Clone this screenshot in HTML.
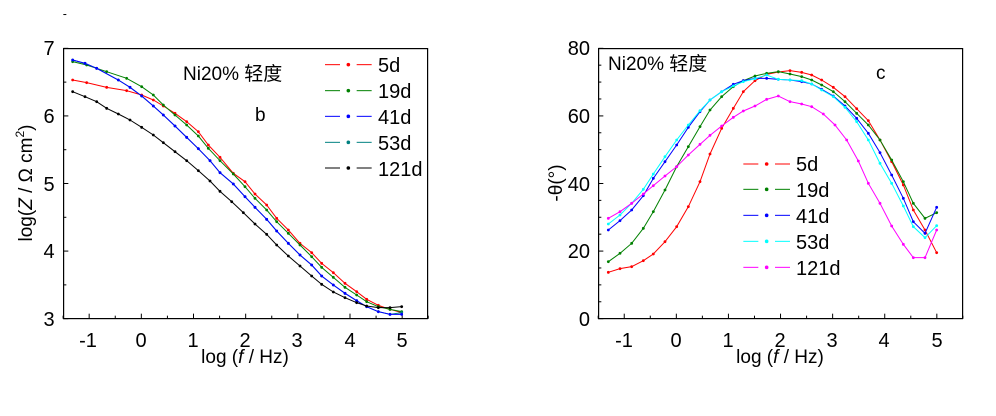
<!DOCTYPE html>
<html><head><meta charset="utf-8"><style>
html,body{margin:0;padding:0;background:#fff;overflow:hidden;}
svg{display:block;font-family:"Liberation Sans","Noto Sans CJK SC",sans-serif;}
.b{position:absolute;background:#000;}
</style></head><body>
<div class="b" style="left:63px;top:48px;width:365px;height:1px"></div>
<div class="b" style="left:427px;top:48px;width:1px;height:271px"></div>
<div class="b" style="left:598px;top:48px;width:365px;height:1px"></div>
<div class="b" style="left:962px;top:48px;width:1px;height:271px"></div>
<svg id="s" width="996" height="416" viewBox="0 0 996 416" xmlns="http://www.w3.org/2000/svg" style="position:absolute;left:0;top:0">
<g fill="#000">
<rect x="63" y="48" width="365" height="1.2"/>
<rect x="427" y="48" width="1.2" height="271"/>
<rect x="63" y="48" width="1.2" height="271"/>
<rect x="63" y="318" width="365" height="1.2"/>
<rect x="598" y="48" width="365" height="1.2"/>
<rect x="962" y="48" width="1.2" height="271"/>
<rect x="598" y="48" width="1.2" height="271"/>
<rect x="598" y="318" width="365" height="1.2"/>
</g>
<g id="L"></g>
<g id="R"></g>
<g font-size="20" fill="#000">
<text x="49" y="55" text-anchor="middle">7</text>
<text x="49" y="123" text-anchor="middle">6</text>
<text x="49" y="191" text-anchor="middle">5</text>
<text x="49" y="258" text-anchor="middle">4</text>
<text x="49" y="326" text-anchor="middle">3</text>
<text x="88" y="347" text-anchor="middle">-1</text>
<text x="141" y="347" text-anchor="middle">0</text>
<text x="193" y="347" text-anchor="middle">1</text>
<text x="245" y="347" text-anchor="middle">2</text>
<text x="297" y="347" text-anchor="middle">3</text>
<text x="350" y="347" text-anchor="middle">4</text>
<text x="402" y="347" text-anchor="middle">5</text>
<text x="378" y="72">5d</text>
<text x="378" y="98">19d</text>
<text x="378" y="124">41d</text>
<text x="378" y="150">53d</text>
<text x="378" y="176">121d</text>
<text x="183" y="80" font-size="19">Ni20%  轻度</text>
<text x="255" y="121" font-size="19">b</text>
<text x="245" y="363" text-anchor="middle" font-size="19">log (<tspan font-style="italic">f</tspan> / Hz)</text>
<text transform="translate(32,183) rotate(-90)" text-anchor="middle" font-size="19">log(<tspan font-style="italic">Z</tspan> / Ω cm<tspan dy="-8" font-size="12">2</tspan><tspan dy="8">)</tspan></text>
</g>
<g font-size="20" fill="#000">
<text x="590" y="55" text-anchor="end">80</text>
<text x="590" y="123" text-anchor="end">60</text>
<text x="590" y="191" text-anchor="end">40</text>
<text x="590" y="258" text-anchor="end">20</text>
<text x="590" y="326" text-anchor="end">0</text>
<text x="624" y="347" text-anchor="middle">-1</text>
<text x="676" y="347" text-anchor="middle">0</text>
<text x="728" y="347" text-anchor="middle">1</text>
<text x="780" y="347" text-anchor="middle">2</text>
<text x="832" y="347" text-anchor="middle">3</text>
<text x="884" y="347" text-anchor="middle">4</text>
<text x="937" y="347" text-anchor="middle">5</text>
<text x="796" y="171">5d</text>
<text x="796" y="197">19d</text>
<text x="796" y="223">41d</text>
<text x="796" y="249">53d</text>
<text x="796" y="275">121d</text>
<text x="608" y="70" font-size="19">Ni20%  轻度</text>
<text x="876" y="79" font-size="19">c</text>
<text x="780" y="363" text-anchor="middle" font-size="19">log (<tspan font-style="italic">f</tspan> / Hz)</text>
<text transform="translate(562,183) rotate(-90)" text-anchor="middle" font-size="19">-θ(°)</text>
</g>
</svg>
<script>
var NS="http://www.w3.org/2000/svg";
function el(p,t,a){var e=document.createElementNS(NS,t);for(var k in a)e.setAttribute(k,a[k]);p.appendChild(e);return e;}
function mk(ox,oy){return function(x,y){return [ox+x/3,oy+y/3];};}
function ticks(g,T,x0,y1,xt,xm,yt,ym){
 var a=T(x0,0)[0],b=T(0,y1)[1];
 xt.forEach(function(x){var p=T(x,0)[0];el(g,"line",{x1:p,x2:p,y1:b,y2:b-5,stroke:"#000","stroke-width":1});});
 xm.forEach(function(x){var p=T(x,0)[0];el(g,"line",{x1:p,x2:p,y1:b,y2:b-3,stroke:"#000","stroke-width":1});});
 yt.forEach(function(y){var p=T(0,y)[1];el(g,"line",{x1:a,x2:a+5,y1:p,y2:p,stroke:"#000","stroke-width":1});});
 ym.forEach(function(y){var p=T(0,y)[1];el(g,"line",{x1:a,x2:a+3,y1:p,y2:p,stroke:"#000","stroke-width":1});});
}
function series(g,T,pts,c){
 var q=pts.map(function(p){return T(p[0],p[1]);});
 el(g,"polyline",{points:q.map(function(p){return p.join(",")}).join(" "),fill:"none",stroke:c,"stroke-width":1});
 q.forEach(function(p){el(g,"circle",{cx:p[0],cy:p[1],r:1.4,fill:c});});
}
function legend(g,T,x0,y,c){
 var a=T(x0,y),b=T(x0+45,y),d=T(x0+95,y),e=T(x0+140,y),m=T(x0+70,y);
 el(g,"line",{x1:a[0],x2:b[0],y1:a[1],y2:a[1],stroke:c,"stroke-width":1});
 el(g,"line",{x1:d[0],x2:e[0],y1:a[1],y2:a[1],stroke:c,"stroke-width":1});
 el(g,"circle",{cx:m[0],cy:m[1],r:1.8,fill:c});
}
var L=document.getElementById("L"),R=document.getElementById("R");
var TL=mk(0,30),TR=mk(520,30);
var xt=[],xm=[];for(var i=-1;i<=5;i++){xt.push(424+i*156.5);xm.push(424+(i-0.5)*156.5);}xm.push(424+5.5*156.5);
var yt=[],ym=[];for(var i=0;i<5;i++){yt.push(866-i*202.75);ym.push(866-(i+0.5)*202.75);}
ticks(L,TL,190,866,xt,xm,yt,ym);
var L5=[[218,150],[260,158],[320,172],[380,182],[425,195],[460,210],[490,228],[525,250],[560,275],[595,305],[625,345],[660,382],[700,430],[735,455],[765,492],[800,525],[830,565],[865,600],[900,640],[935,668],[965,700],[1000,728],[1035,760],[1070,785],[1100,808],[1135,826],[1170,838],[1205,848]];
var L19=[[218,95],[260,105],[320,125],[380,145],[425,170],[460,195],[490,225],[525,255],[560,285],[595,318],[625,355],[660,392],[700,432],[735,470],[765,505],[800,540],[830,575],[865,610],[900,645],[935,680],[965,712],[1000,742],[1035,772],[1070,795],[1100,815],[1135,830],[1170,838],[1205,845]];
var L41=[[218,90],[255,100],[290,115],[355,150],[390,172],[425,198],[460,228],[490,255],[525,288],[560,322],[595,356],[630,392],[660,428],[700,462],[735,500],[765,532],[800,568],[830,603],[865,640],[900,675],[935,705],[965,738],[1000,765],[1035,790],[1070,812],[1100,830],[1135,845],[1170,853],[1205,853]];
var L53=L41.map(function(p,i){return [p[0],p[1]+(i==L41.length-1?-5:0)];});
var L121=[[218,185],[255,200],[290,215],[320,235],[355,252],[390,270],[425,292],[460,315],[490,338],[525,365],[560,392],[595,422],[630,453],[660,484],[695,515],[730,548],[765,582],[800,613],[830,645],[865,678],[900,708],[935,738],[965,763],[1000,786],[1035,803],[1070,818],[1100,828],[1135,833],[1170,833],[1205,830]];
series(L,TL,L5,"#ff0000");series(L,TL,L19,"#008000");series(L,TL,L53,"#008080");series(L,TL,L41,"#0000ff");series(L,TL,L121,"#000000");
var lc=["#ff0000","#008000","#0000ff","#008080","#000000"],ly=[104,182,259,337,414];
for(var i=0;i<5;i++)legend(L,TL,975,ly[i],lc[i]);
var rx=[],rm=[];for(var i=-1;i<=5;i++){rx.push(469+i*156.3);rm.push(469+(i-0.5)*156.3);}rm.push(469+5.5*156.3);
var ry=[],rym=[];for(var i=0;i<=4;i++){ry.push(866-i*202.75);}for(var i=0;i<16;i++){if(i%4)rym.push(866-i*50.7);}
ticks(R,TR,235,866,rx,rm,ry,rym);
var R5=[[265,727],[300,716],[335,710],[370,692],[400,672],[435,635],[470,590],[505,530],[540,455],[570,372],[605,295],[640,235],[670,185],[705,152],[740,133],[775,126],[810,122],[845,127],[875,135],[905,150],[940,172],[975,200],[1010,236],[1045,272],[1080,330],[1115,395],[1150,465],[1180,540],[1215,600],[1250,668]];
var R19=[[265,695],[300,670],[335,640],[370,595],[400,545],[435,480],[470,410],[505,350],[540,290],[570,240],[605,200],[640,170],[670,152],[705,138],[740,130],[775,125],[810,132],[845,140],[875,150],[905,165],[940,185],[975,215],[1010,250],[1045,285],[1080,330],[1115,390],[1150,455],[1180,520],[1215,565],[1250,548]];
var R41=[[265,600],[300,572],[335,540],[370,497],[400,445],[435,395],[470,345],[505,292],[540,245],[570,210],[605,185],[640,163],[670,152],[705,145],[740,145],[775,148],[810,150],[845,155],[875,162],[905,178],[940,198],[975,228],[1010,265],[1045,310],[1080,368],[1115,435],[1150,505],[1180,575],[1215,610],[1250,532]];
var R53=[[265,582],[300,555],[335,520],[370,478],[400,432],[435,380],[470,330],[505,285],[540,242],[570,210],[605,185],[640,168],[670,155],[705,146],[740,135],[775,148],[810,150],[845,152],[875,162],[905,180],[940,200],[975,232],[1010,275],[1045,330],[1080,400],[1115,460],[1150,528],[1180,590],[1215,623],[1250,587]];
var R121=[[265,565],[300,545],[335,520],[370,492],[400,467],[435,438],[470,410],[505,375],[540,343],[570,316],[605,288],[640,262],[670,243],[705,228],[740,208],[775,198],[810,215],[845,222],[875,230],[910,252],[945,285],[980,330],[1015,393],[1045,460],[1080,520],[1115,588],[1150,643],[1180,683],[1215,683],[1250,600]];
series(R,TR,R5,"#ff0000");series(R,TR,R19,"#008000");series(R,TR,R41,"#0000ff");series(R,TR,R53,"#00ffff");series(R,TR,R121,"#ff00ff");
var rc=["#ff0000","#008000","#0000ff","#00ffff","#ff00ff"],rly=[402,478,556,634,712];
for(var i=0;i<5;i++)legend(R,TR,670,rly[i],rc[i]);
</script>
</body></html>
